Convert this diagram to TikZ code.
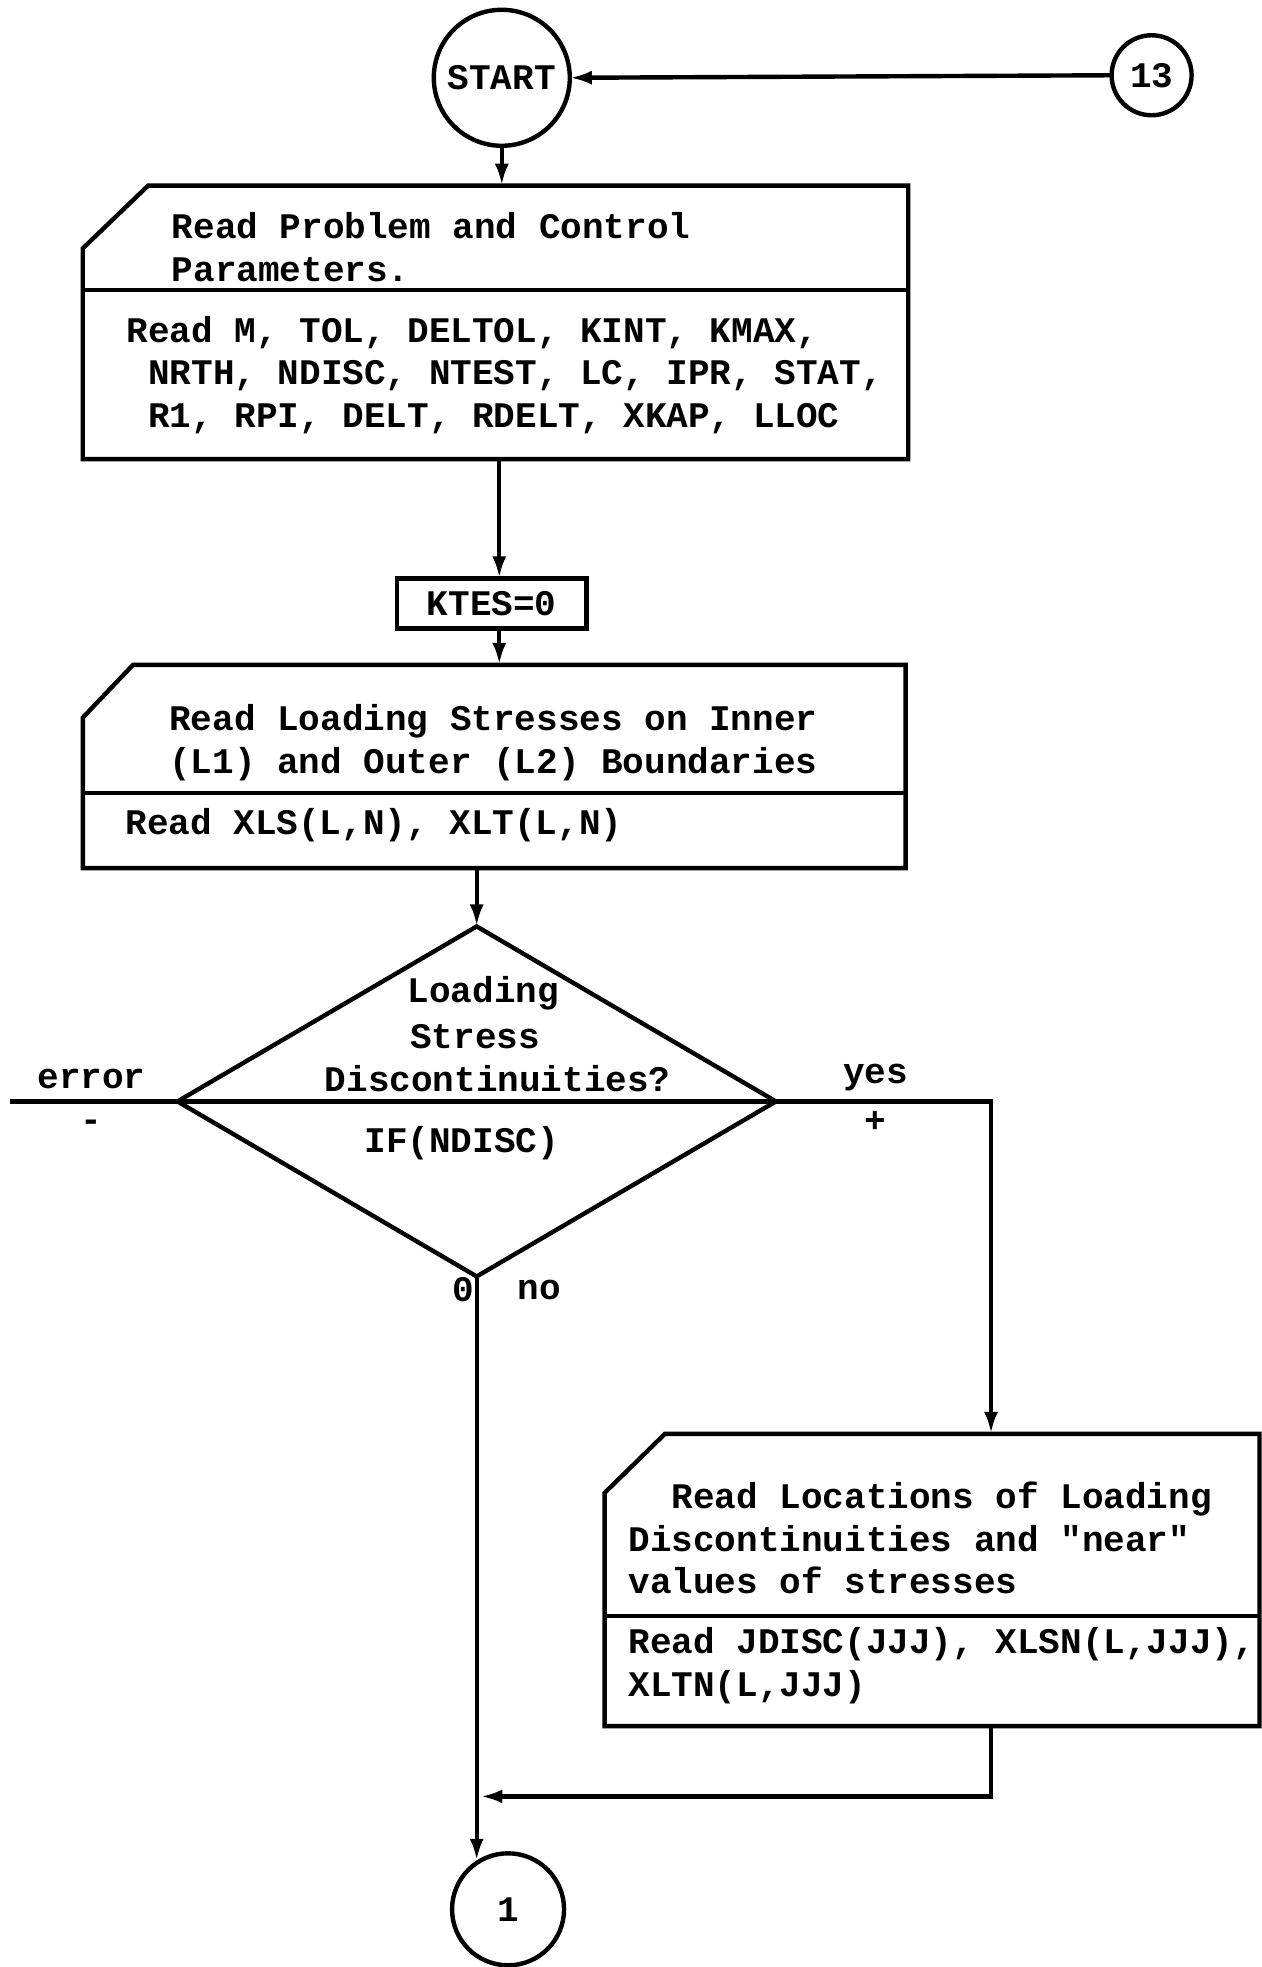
\documentclass[tikz,border=0pt]{standalone}
\usepackage{fontspec}
\setmonofont{Liberation Mono}
\usetikzlibrary{arrows.meta,shapes.geometric,calc}
\begin{document}
\begin{tikzpicture}[x=0.6272pt, y=-0.6272pt,
  every node/.style={font=\ttfamily\bfseries\fontsize{18}{21.3}\selectfont, inner sep=0pt, outer sep=0pt},
  ln/.style={line width=2.2pt, line join=miter},
  arr/.style={ln, -{Latex[length=11pt,width=7pt]}},
  txt/.style={anchor=west, align=left},
  frame/.style={ln, draw}]
\useasboundingbox (0,0) rectangle (1006,1568);

% terminals and connectors
\node[circle, frame, minimum size=68pt] (start) at (400,62) {START};
\node[circle, frame, minimum size=40pt] (c13) at (918,60) {13};
\node[circle, frame, minimum size=56pt] (c1) at (405,1522) {1};

% first input block
\node[minimum width=412.7pt, minimum height=136.7pt] (b1) at (395,257) {};
\draw[ln] ($(b1.north west)+(0,50)$) -- ($(b1.north west)+(52,0)$) -- (b1.north east)
  -- (b1.south east) -- (b1.south west) -- cycle;
\draw[ln] (b1.west |- 0,231) -- (b1.east |- 0,231);
\node[txt] (b1a) at (137,197) {Read Problem and Control\\Parameters.};
\node[txt] (b1b) at (101,299) {Read M, TOL, DELTOL, KINT, KMAX,\\
  \hspace*{0.6em}NRTH, NDISC, NTEST, LC, IPR, STAT,\\
  \hspace*{0.6em}R1, RPI, DELT, RDELT, XKAP, LLOC};

% initialisation
\node[frame, minimum width=94.7pt, minimum height=25.1pt] (kt) at (392,481) {KTES=0};

% second input block
\node[minimum width=411.4pt, minimum height=101.6pt] (b2) at (394,611) {};
\draw[ln] ($(b2.north west)+(0,42)$) -- ($(b2.north west)+(40,0)$) -- (b2.north east)
  -- (b2.south east) -- (b2.south west) -- cycle;
\draw[ln] (b2.west |- 0,632) -- (b2.east |- 0,632);
\node[txt] (b2a) at (135,592) {Read Loading Stresses on Inner\\(L1) and Outer (L2) Boundaries};
\node[txt] (b2b) at (100,658) {Read XLS(L,N), XLT(L,N)};

% decision
\node[diamond, frame, minimum width=299.2pt, minimum height=175pt] (dia) at (380,878) {};
\draw[ln] (dia.west) -- (dia.east);
\node[txt] (q1) at (325,792) {Loading};
\node[txt] (q2) at (327,826) {Stress};
\node[txt] (q3) at (259,860) {Discontinuities?};
\node (q4) at (368,911) {IF(NDISC)};
\coordinate (errend) at (8,878);
\draw[ln] (dia.west) -- (errend);
\node (lerr) at (73,860) {error};
\node (lminus) at (73,897) {-};
\node (lyes) at (698,859) {yes};
\node (lplus) at (698,894) {+};
\node (lzero) at (369,1028) {0};
\node (lno) at (430,1028) {no};

% third input block
\node[minimum width=327.4pt, minimum height=146.1pt] (b3) at (743,1259.5) {};
\draw[ln] ($(b3.north west)+(0,47)$) -- ($(b3.north west)+(48,0)$) -- (b3.north east)
  -- (b3.south east) -- (b3.south west) -- cycle;
\draw[ln] (b3.west |- 0,1288) -- (b3.east |- 0,1288);
\node[txt] (b3a) at (501,1226) {\hspace*{1.2em}Read Locations of Loading\\Discontinuities and "near"\\values of stresses};
\node[txt] (b3b) at (501,1328) {Read JDISC(JJJ), XLSN(L,JJJ),\\XLTN(L,JJJ)};

% flow lines
\draw[arr] (c13.west) -- (start.east);
\draw[arr] (start.south) -- (start.south |- b1.north);
\draw[arr] (b1.south -| 398,0) -- (kt.north -| 398,0);
\draw[arr] (kt.south -| 398,0) -- (b2.north -| 398,0);
\draw[arr] (b2.south -| dia.north) -- (dia.north);
\draw[arr] (dia.east) -| (b3.north -| 790,0);
\coordinate (merge) at (383,1432);
\draw[arr] (b3.south -| 790,0) |- (merge);
\draw[arr] (dia.south) -- (dia.south |- c1.120);
\end{tikzpicture}
\end{document}
